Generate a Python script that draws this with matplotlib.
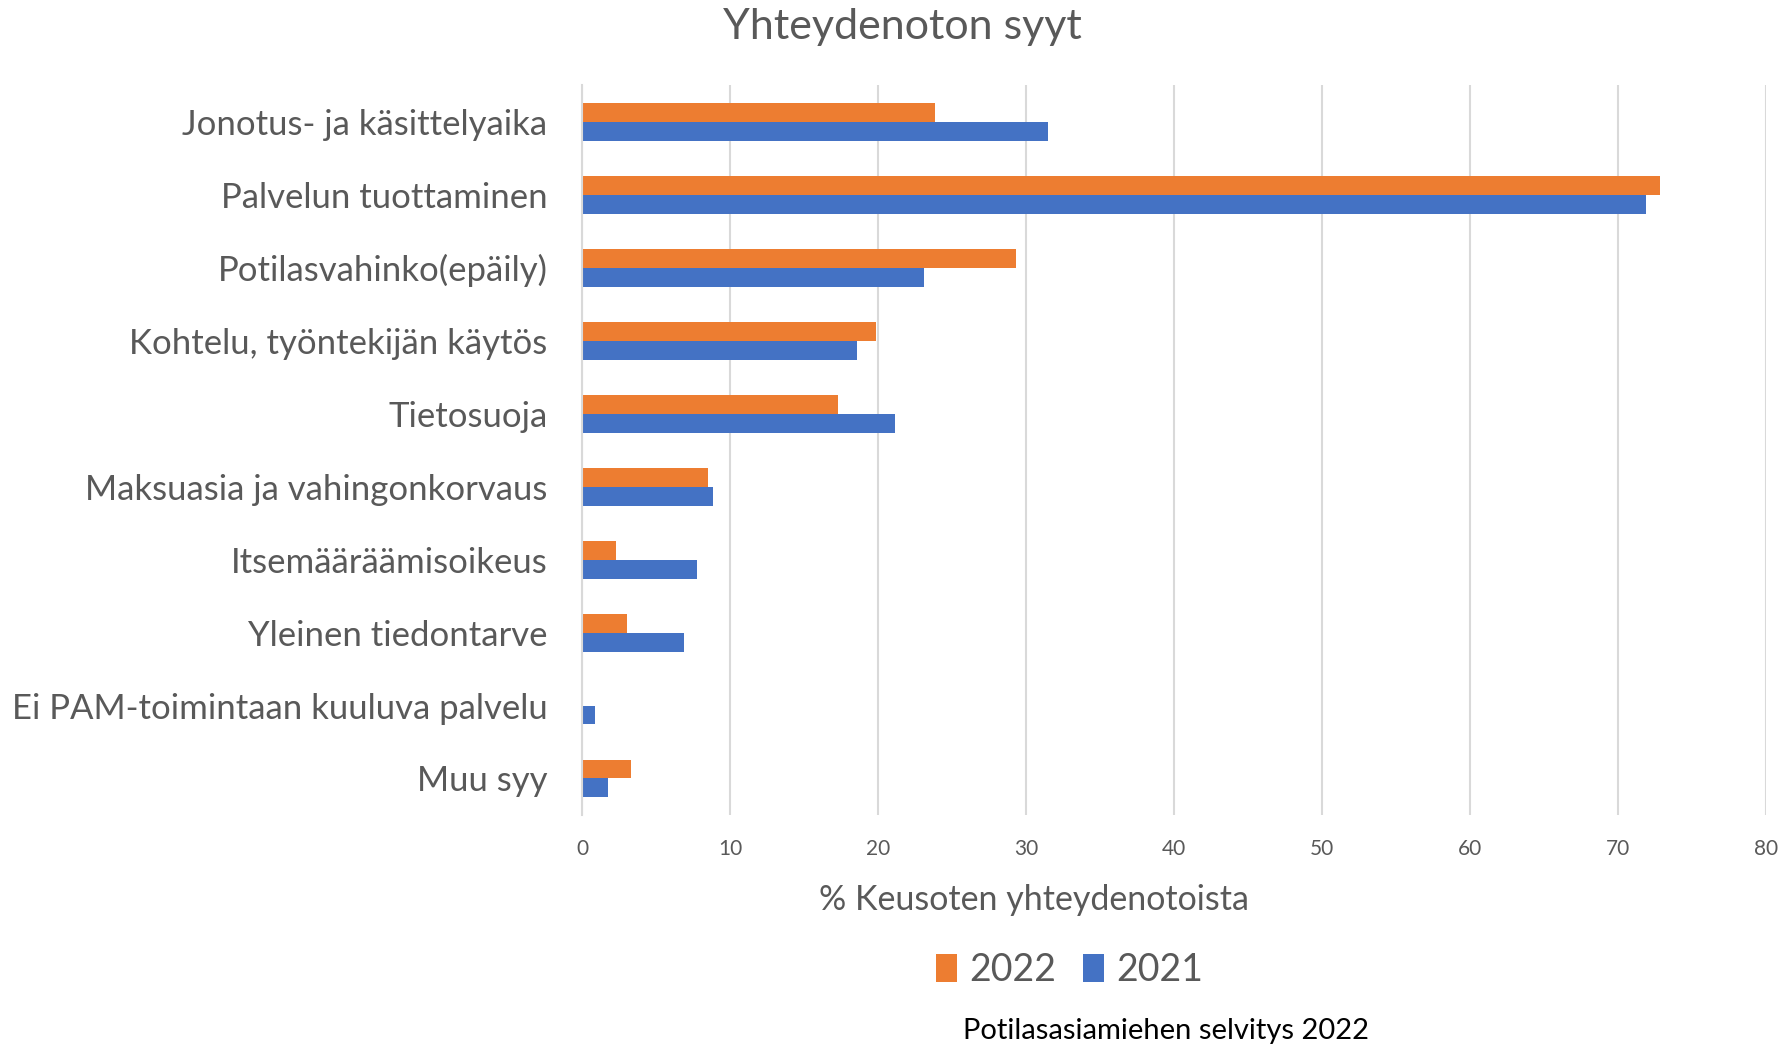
import matplotlib.pyplot as plt
import numpy as np

categories = ['Jonotus- ja käsittelyaika', 'Palvelun tuottaminen', 'Potilasvahinko(epäily)',
              'Kohtelu, työntekijän käytös', 'Tietosuoja', 'Maksuasia ja vahingonkorvaus',
              'Itsemääräämisoikeus', 'Yleinen tiedontarve', 'Ei PAM-toimintaan kuuluva palvelu',
              'Muu syy']
values_2022 = [23.8, 72.8, 29.3, 19.85, 17.3, 8.5, 2.25, 3.0, 0.0, 3.27]
values_2021 = [31.5, 71.85, 23.1, 18.56, 21.15, 8.85, 7.77, 6.9, 0.84, 1.72]
xticks = [0, 10, 20, 30, 40, 50, 60, 70, 80]

plt.rcParams['font.family'] = ['Lato', 'DejaVu Sans']
grey = '#595959'

fig = plt.figure(figsize=(17.83, 10.47), dpi=100)
ax = fig.add_axes([0.3266, 0.2216, 0.664, 0.697])

y = np.arange(len(categories))
h = 0.26
ax.barh(y - h / 2, values_2022, height=h, color='#ED7D31', label='2022')
ax.barh(y + h / 2, values_2021, height=h, color='#4472C4', label='2021')

ax.set_ylim(len(categories) - 0.5, -0.5)
ax.set_xlim(0, 80)
ax.set_xticks(xticks)
ax.set_yticks(y)
ax.set_yticklabels(categories, fontsize=25, color=grey)
ax.tick_params(axis='x', labelsize=15, labelcolor=grey, length=0, pad=17)
ax.tick_params(axis='y', length=0, pad=25)
ax.grid(axis='x', color='#D9D9D9', linewidth=1.5)
ax.set_axisbelow(True)
for s in ['top', 'right', 'bottom']:
    ax.spines[s].set_visible(False)
ax.spines['left'].set_color('#D9D9D9')
ax.spines['left'].set_linewidth(1.5)

fig.text(0.506, 0.974, 'Yhteydenoton syyt', fontsize=31, color=grey, ha='center', va='center')
fig.text(0.58, 0.14, '% Keusoten yhteydenotoista', fontsize=24.5, color=grey, ha='center', va='center')
fig.text(0.654, 0.0153, 'Potilasasiamiehen selvitys 2022', fontsize=21, color='black', ha='center', va='center')

leg = fig.legend(loc='center', bbox_to_anchor=(0.6, 0.0735), ncol=2, frameon=False,
                 fontsize=27, handlelength=0.55, handleheight=0.8, handletextpad=0.35,
                 columnspacing=0.7)
for t in leg.get_texts():
    t.set_color(grey)

fig.savefig('out.png', dpi=100)
